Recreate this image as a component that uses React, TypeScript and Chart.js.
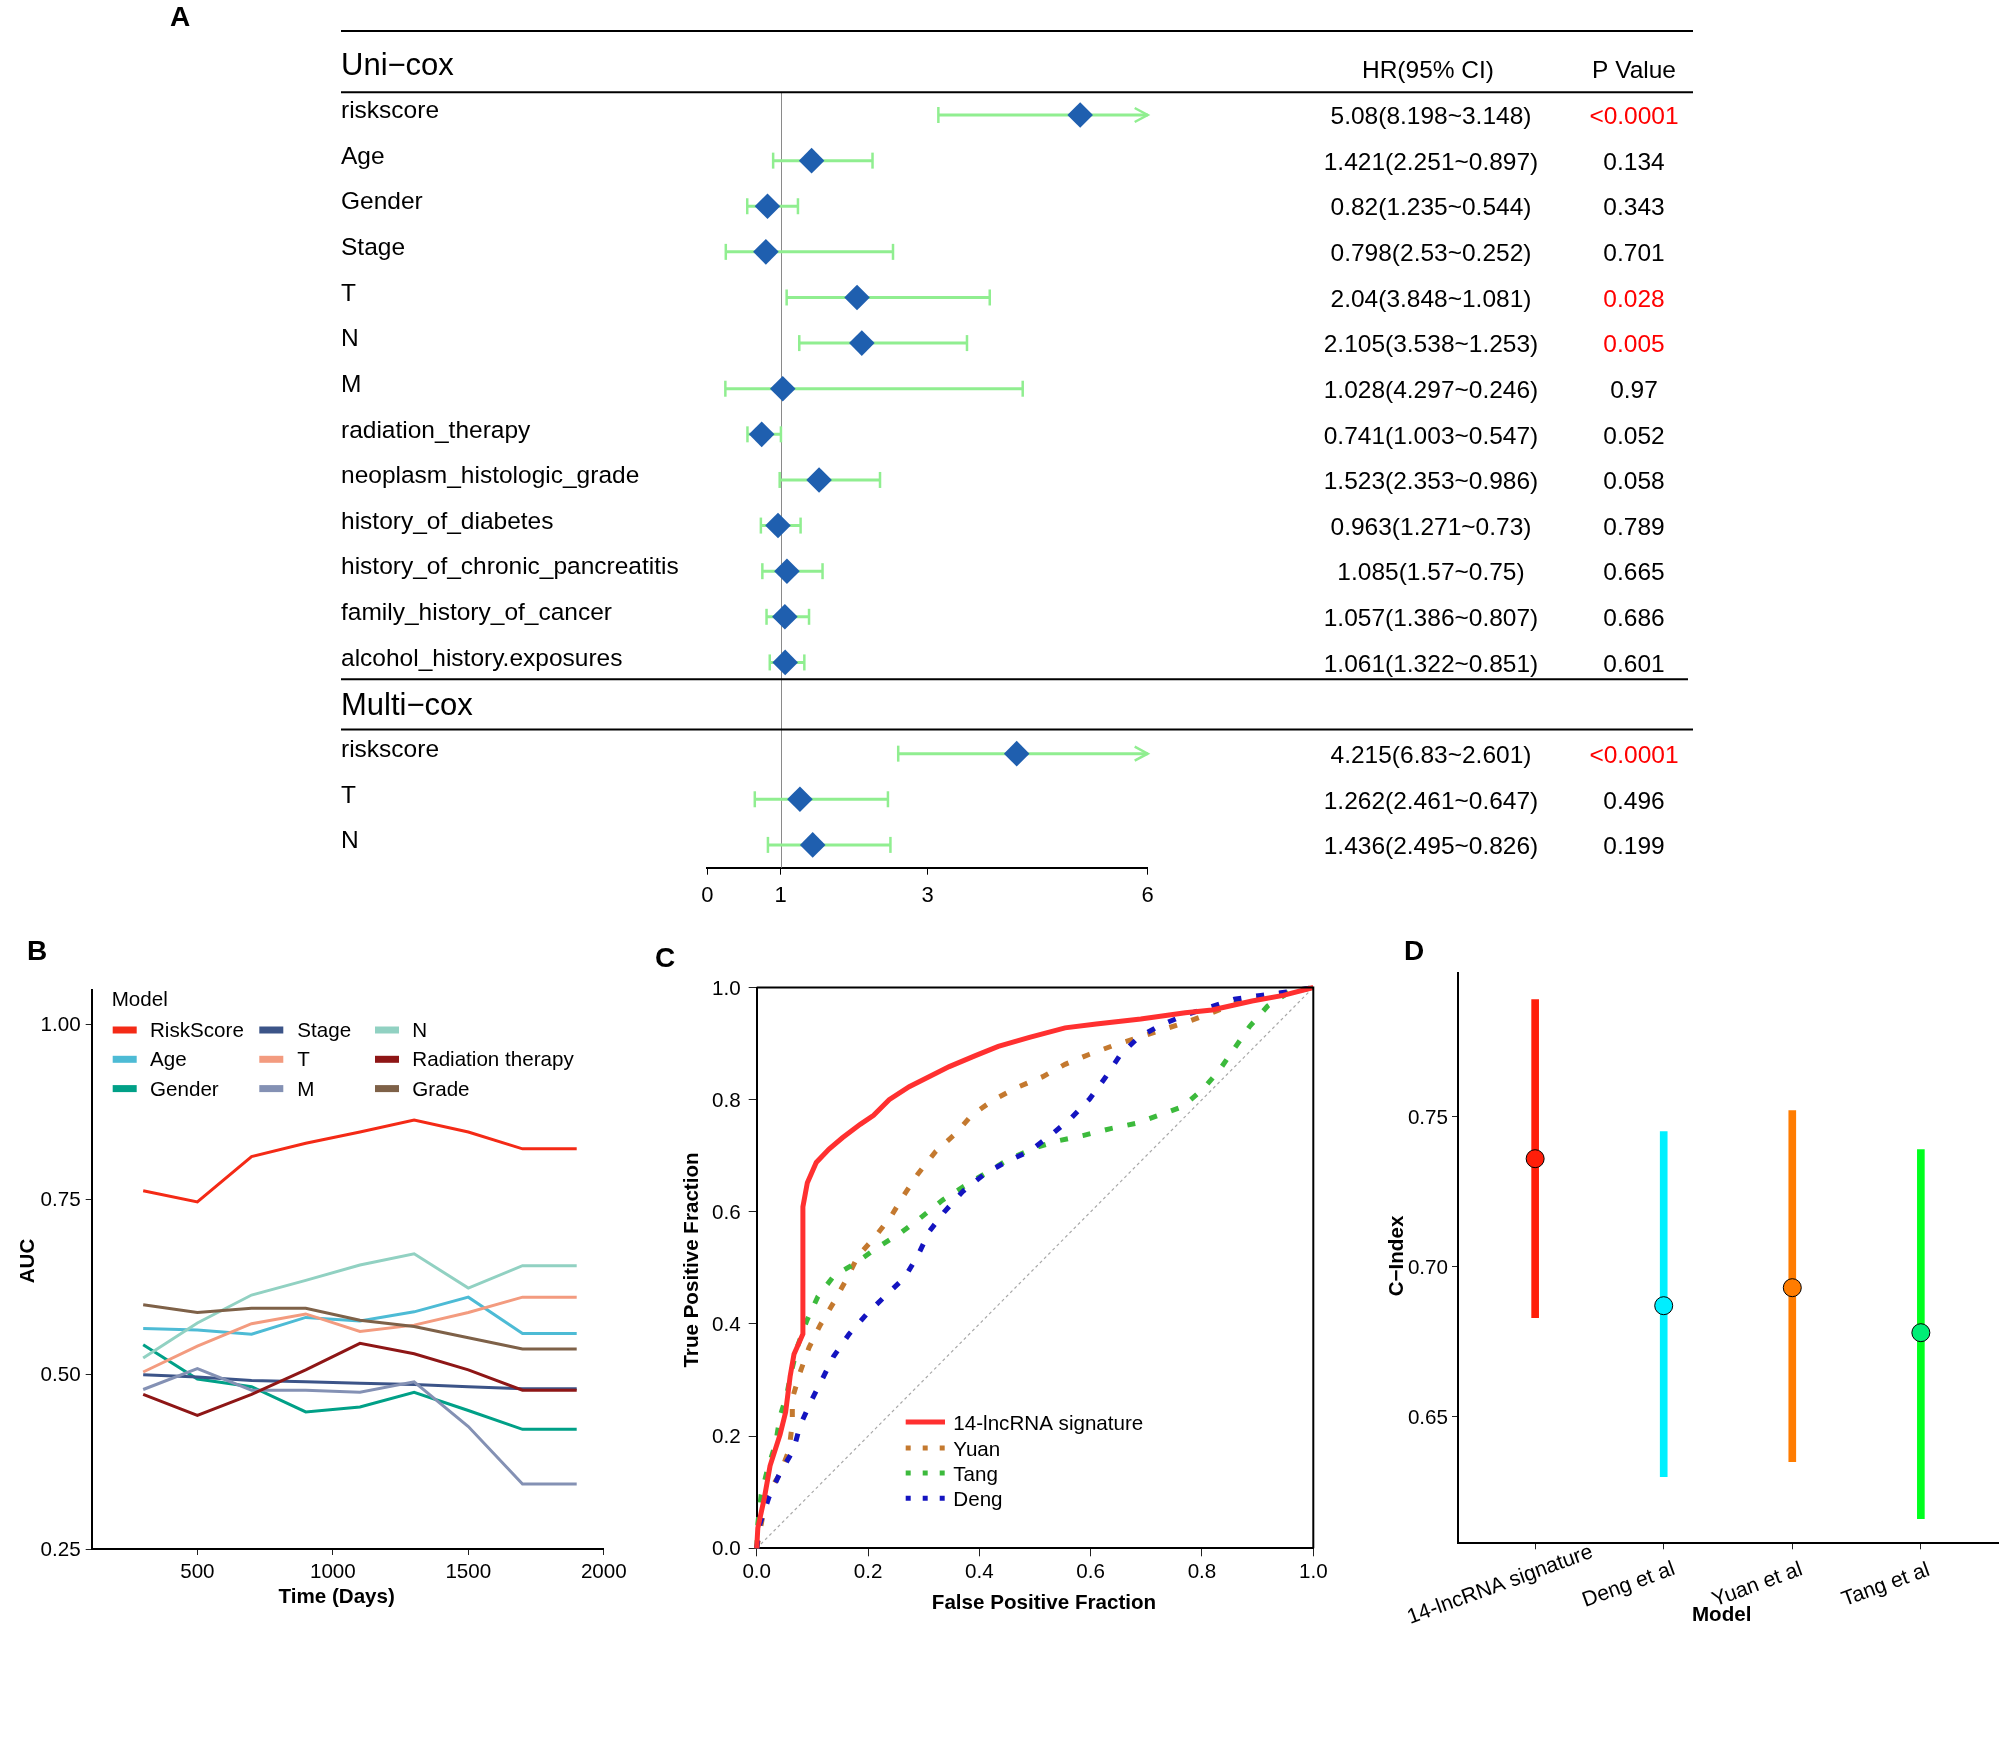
import React, { useEffect, useRef } from "react";
import { Chart, registerables } from "chart.js";

Chart.register(...registerables);

const FONT = '"Liberation Sans", Arial, Helvetica, sans-serif';
Chart.defaults.font.family = FONT;
Chart.defaults.color = "#000";
const FS = 20.6;

// ---------------- Panel A : forest plot ----------------
const uniVars = [
  "riskscore", "Age", "Gender", "Stage", "T", "N", "M", "radiation_therapy",
  "neoplasm_histologic_grade", "history_of_diabetes", "history_of_chronic_pancreatitis",
  "family_history_of_cancer", "alcohol_history.exposures",
];
const uniHR = [5.08, 1.421, 0.82, 0.798, 2.04, 2.105, 1.028, 0.741, 1.523, 0.963, 1.085, 1.057, 1.061];
const uniUpper = [8.198, 2.251, 1.235, 2.53, 3.848, 3.538, 4.297, 1.003, 2.353, 1.271, 1.57, 1.386, 1.322];
const uniLower = [3.148, 0.897, 0.544, 0.252, 1.081, 1.253, 0.246, 0.547, 0.986, 0.73, 0.75, 0.807, 0.851];
const uniP = ["<0.0001", "0.134", "0.343", "0.701", "0.028", "0.005", "0.97", "0.052", "0.058", "0.789", "0.665", "0.686", "0.601"];
const multiVars = ["riskscore", "T", "N"];
const multiHR = [4.215, 1.262, 1.436];
const multiUpper = [6.83, 2.461, 2.495];
const multiLower = [2.601, 0.647, 0.826];
const multiP = ["<0.0001", "0.496", "0.199"];
const forestTicks = [0, 1, 3, 6];

// ---------------- Panel B : time-dependent AUC ----------------
const aucTimes = [300, 500, 700, 900, 1100, 1300, 1500, 1700, 1900];
const aucRiskScore = [0.762, 0.746, 0.811, 0.830, 0.846, 0.863, 0.846, 0.822, 0.822];
const aucAge = [0.565, 0.563, 0.557, 0.581, 0.576, 0.589, 0.610, 0.558, 0.558];
const aucGender = [0.542, 0.493, 0.482, 0.446, 0.453, 0.474, 0.448, 0.421, 0.421];
const aucStage = [0.499, 0.496, 0.491, 0.489, 0.487, 0.485, 0.482, 0.479, 0.479];
const aucT = [0.503, 0.540, 0.572, 0.586, 0.561, 0.570, 0.588, 0.610, 0.610];
const aucM = [0.478, 0.508, 0.477, 0.477, 0.474, 0.489, 0.425, 0.343, 0.343];
const aucN = [0.523, 0.573, 0.613, 0.634, 0.656, 0.672, 0.623, 0.655, 0.655];
const aucRadiation = [0.471, 0.441, 0.471, 0.506, 0.544, 0.529, 0.506, 0.477, 0.477];
const aucGrade = [0.599, 0.588, 0.594, 0.594, 0.577, 0.568, 0.552, 0.536, 0.536];
const aucLabels = ["RiskScore", "Age", "Gender", "Stage", "T", "M", "N", "Radiation therapy", "Grade"];
const aucColors = ["#F42A16", "#4DBBD5", "#00A087", "#3C5488", "#F39B7F", "#8491B4", "#91D1C2", "#8E1616", "#7E6148"];
const aucTicksX = [500, 1000, 1500, 2000];
const aucTicksY = [0.25, 0.5, 0.75, 1.0];

// ---------------- Panel C : ROC curves ----------------
const sigFPR = [0, 0.002, 0.014, 0.024, 0.042, 0.052, 0.060, 0.067, 0.083, 0.083, 0.091, 0.107, 0.130, 0.154, 0.186, 0.210, 0.238, 0.274, 0.306, 0.346, 0.394, 0.434, 0.490, 0.554, 0.610, 0.690, 0.770, 0.818, 0.890, 0.946, 1.0];
const sigTPR = [0, 0.036, 0.091, 0.147, 0.203, 0.243, 0.306, 0.346, 0.382, 0.609, 0.652, 0.688, 0.712, 0.732, 0.756, 0.772, 0.800, 0.823, 0.839, 0.859, 0.879, 0.895, 0.911, 0.928, 0.935, 0.944, 0.955, 0.960, 0.976, 0.986, 1.0];
const yuanFPR = [0, 0.018, 0.042, 0.058, 0.064, 0.064, 0.078, 0.094, 0.114, 0.138, 0.162, 0.182, 0.214, 0.242, 0.266, 0.290, 0.322, 0.358, 0.386, 0.426, 0.466, 0.514, 0.554, 0.598, 0.642, 0.686, 0.730, 0.774, 0.818, 0.858, 0.906, 0.954, 1.0];
const yuanTPR = [0, 0.095, 0.133, 0.175, 0.223, 0.267, 0.314, 0.358, 0.398, 0.438, 0.481, 0.521, 0.557, 0.593, 0.632, 0.668, 0.708, 0.740, 0.772, 0.800, 0.821, 0.841, 0.863, 0.881, 0.897, 0.911, 0.925, 0.939, 0.955, 0.971, 0.982, 0.992, 1.0];
const tangFPR = [0, 0.002, 0.008, 0.019, 0.034, 0.042, 0.054, 0.062, 0.074, 0.090, 0.110, 0.138, 0.178, 0.218, 0.258, 0.294, 0.334, 0.370, 0.410, 0.450, 0.494, 0.538, 0.586, 0.634, 0.682, 0.722, 0.766, 0.802, 0.830, 0.858, 0.886, 0.918, 0.954, 1.0];
const tangTPR = [0, 0.044, 0.095, 0.139, 0.187, 0.235, 0.274, 0.314, 0.362, 0.406, 0.449, 0.485, 0.509, 0.537, 0.562, 0.589, 0.621, 0.644, 0.668, 0.692, 0.712, 0.726, 0.736, 0.748, 0.758, 0.772, 0.788, 0.819, 0.851, 0.891, 0.931, 0.967, 0.990, 1.0];
const dengFPR = [0, 0.006, 0.022, 0.042, 0.066, 0.078, 0.098, 0.118, 0.138, 0.166, 0.198, 0.230, 0.266, 0.290, 0.310, 0.338, 0.370, 0.410, 0.450, 0.490, 0.530, 0.566, 0.598, 0.626, 0.654, 0.686, 0.726, 0.770, 0.814, 0.858, 0.906, 0.954, 1.0];
const dengTPR = [0, 0.044, 0.091, 0.135, 0.175, 0.219, 0.263, 0.302, 0.342, 0.382, 0.418, 0.449, 0.483, 0.523, 0.565, 0.601, 0.636, 0.668, 0.690, 0.708, 0.738, 0.768, 0.801, 0.839, 0.881, 0.911, 0.933, 0.951, 0.965, 0.979, 0.986, 0.992, 1.0];
const rocTicks = [0, 0.2, 0.4, 0.6, 0.8, 1.0];

// ---------------- Panel D : C-index ----------------
const cModels = ["14-lncRNA signature", "Deng et al", "Yuan et al", "Tang et al"];
const cIndex = [0.736, 0.687, 0.693, 0.678];
const cLower = [0.683, 0.630, 0.635, 0.616];
const cUpper = [0.789, 0.745, 0.752, 0.739];
const cBarColors = ["#FF1E0A", "#00F0FF", "#FF7C00", "#00FF1E"];
const cPointColors = ["#FF1E0A", "#00EEFF", "#FF7C00", "#00EE76"];
const cTicksY = [0.65, 0.7, 0.75];

// ---------------------------------------------------------------
const tickGrid = (len: number) => ({
  display: true, drawOnChartArea: false, drawTicks: true, tickLength: len,
  color: "#222", lineWidth: 1, offset: false,
});
const axisBorder = { display: true, color: "#000", width: 2 };

function line(ctx: any, x1: number, y1: number, x2: number, y2: number) {
  ctx.beginPath(); ctx.moveTo(x1, y1); ctx.lineTo(x2, y2); ctx.stroke();
}

function drawTitle(ctx: any, text: string, x: number, y: number, rotate: boolean) {
  ctx.save();
  ctx.font = `bold ${FS}px ${FONT}`;
  ctx.fillStyle = "#000"; ctx.textAlign = "center"; ctx.textBaseline = "middle";
  ctx.translate(x, y);
  if (rotate) ctx.rotate(-Math.PI / 2);
  ctx.fillText(text, 0, 0);
  ctx.restore();
}

const forestRows = [
  ...uniVars.map((label, i) => ({ label, hr: uniHR[i], lower: uniLower[i], upper: uniUpper[i], p: uniP[i], row: i })),
  ...multiVars.map((label, i) => ({ label, hr: multiHR[i], lower: multiLower[i], upper: multiUpper[i], p: multiP[i], row: uniVars.length + 1 + i })),
];
const isSig = (p: string) => p.startsWith("<") || parseFloat(p) < 0.05;

const forestPlugin = {
  id: "forestDecor",
  beforeDatasetsDraw(chart: any) {
    const { ctx, scales: { x, y }, chartArea } = chart;
    ctx.save();
    const x1 = Math.round(x.getPixelForValue(1)) + 0.5;
    ctx.strokeStyle = "#8a8a8a"; ctx.lineWidth = 1;
    line(ctx, x1, y.getPixelForValue(-0.5), x1, chartArea.bottom);
    ctx.strokeStyle = "#90EE90";
    forestRows.forEach((r) => {
      const py = y.getPixelForValue(r.row);
      const xl = x.getPixelForValue(Math.max(r.lower, x.min));
      const xu = x.getPixelForValue(Math.min(r.upper, x.max));
      ctx.lineWidth = 3;
      line(ctx, xl, py, xu, py);
      ctx.lineWidth = 2.5;
      line(ctx, xl, py - 8, xl, py + 8);
      if (r.upper <= x.max) {
        line(ctx, xu, py - 8, xu, py + 8);
      } else {
        ctx.beginPath();
        ctx.moveTo(xu - 13, py - 7); ctx.lineTo(xu, py); ctx.lineTo(xu - 13, py + 7);
        ctx.stroke();
      }
    });
    ctx.restore();
  },
  afterDraw(chart: any) {
    const { ctx, scales: { y } } = chart;
    ctx.save();
    ctx.strokeStyle = "#000"; ctx.lineWidth = 2;
    line(ctx, 341, y.getPixelForValue(-1.84), 1693, y.getPixelForValue(-1.84));
    line(ctx, 341, y.getPixelForValue(-0.5), 1693, y.getPixelForValue(-0.5));
    line(ctx, 341, y.getPixelForValue(12.37), 1688, y.getPixelForValue(12.37));
    line(ctx, 341, y.getPixelForValue(13.47), 1693, y.getPixelForValue(13.47));
    ctx.fillStyle = "#000"; ctx.textBaseline = "middle";
    ctx.font = `31px ${FONT}`; ctx.textAlign = "left";
    ctx.fillText("Uni\u2212cox", 341, 66.5);
    ctx.fillText("Multi\u2212cox", 341, y.getPixelForValue(12.93) + 2);
    ctx.font = `24.5px ${FONT}`; ctx.textAlign = "center";
    ctx.fillText("HR(95% CI)", 1428, 71);
    ctx.fillText("P Value", 1634, 71);
    forestRows.forEach((r) => {
      const py = y.getPixelForValue(r.row);
      ctx.fillStyle = "#000";
      ctx.textAlign = "left";
      ctx.fillText(r.label, 341, py - 3.5);
      ctx.textAlign = "center";
      ctx.fillText(`${r.hr}(${r.upper}~${r.lower})`, 1431, py + 2.5);
      ctx.fillStyle = isSig(r.p) ? "#FF0000" : "#000";
      ctx.fillText(r.p, 1634, py + 2.5);
    });
    ctx.restore();
  },
};

function buildA(): any {
  return {
    type: "scatter",
    data: {
      datasets: [{
        data: forestRows.map((r) => ({ x: r.hr, y: r.row })),
        pointStyle: "rectRot", pointRadius: 12.8, pointHoverRadius: 12.8,
        backgroundColor: "#1F5FAF", borderColor: "#1F5FAF", borderWidth: 0,
      }],
    },
    options: {
      responsive: false, animation: false, events: [],
      layout: { padding: { left: 707.3, right: 2008 - 1147.7, top: 92.2, bottom: 0 } },
      plugins: { legend: { display: false }, tooltip: { enabled: false } },
      scales: {
        x: {
          type: "linear", min: 0, max: 6,
          afterBuildTicks: (s: any) => { s.ticks = forestTicks.map((v) => ({ value: v })); },
          afterFit: (s: any) => { s.height = 930 - 867.7; },
          ticks: { font: { size: 22 }, color: "#000", padding: 8, maxRotation: 0, autoSkip: false, callback: (v: any) => String(v) },
          grid: { ...tickGrid(7), color: "#000" },
          border: axisBorder,
        },
        y: { type: "linear", min: -0.5, max: 16.5, reverse: true, display: false },
      },
    },
    plugins: [forestPlugin],
  };
}

// ---------------- B ----------------
const aucSeries = [aucRiskScore, aucAge, aucGender, aucStage, aucT, aucM, aucN, aucRadiation, aucGrade];

const aucLegendPlugin = {
  id: "aucLegend",
  afterDraw(chart: any) {
    const { ctx } = chart;
    ctx.save();
    ctx.font = `${FS}px ${FONT}`; ctx.fillStyle = "#000";
    ctx.textBaseline = "middle"; ctx.textAlign = "left";
    ctx.fillText("Model", 111.7, 70.5);
    const keyX = [112.7, 259.3, 375];
    const textX = [150, 297.3, 412.3];
    const rowY = [100, 129.3, 158.6];
    aucLabels.forEach((lab, i) => {
      const c = Math.floor(i / 3), r = i % 3;
      ctx.fillStyle = aucColors[i];
      ctx.fillRect(keyX[c], rowY[r] - 3.5, 24, 7);
      ctx.fillStyle = "#000";
      ctx.fillText(lab, textX[c], rowY[r] + 1.5);
    });
    drawTitle(ctx, "Time (Days)", 336.7, 667, false);
    drawTitle(ctx, "AUC", 28, 331, true);
    ctx.restore();
  },
};

function buildB(): any {
  return {
    type: "scatter",
    data: {
      datasets: aucSeries.map((vals, i) => ({
        label: aucLabels[i],
        data: aucTimes.map((t, j) => ({ x: t, y: vals[j] })),
        showLine: true, borderColor: aucColors[i], backgroundColor: aucColors[i],
        borderWidth: 3, pointRadius: 0, pointHoverRadius: 0, tension: 0, order: -i,
      })),
    },
    options: {
      responsive: false, animation: false, events: [],
      layout: { padding: { left: 12, right: 650 - 603.8, top: 60, bottom: 21 } },
      plugins: { legend: { display: false }, tooltip: { enabled: false } },
      scales: {
        x: {
          type: "linear", min: 110, max: 2000,
          afterBuildTicks: (s: any) => { s.ticks = aucTicksX.map((v) => ({ value: v })); },
          afterFit: (s: any) => { s.height = 60; },
          ticks: { font: { size: FS }, color: "#000", padding: 5, maxRotation: 0, autoSkip: false, callback: (v: any) => String(v) },
          grid: tickGrid(6), border: axisBorder,
        },
        y: {
          type: "linear", min: 0.25, max: 1.049,
          afterBuildTicks: (s: any) => { s.ticks = aucTicksY.map((v) => ({ value: v })); },
          afterFit: (s: any) => { s.width = 79.7; },
          ticks: { font: { size: FS }, color: "#000", padding: 5, labelOffset: 1.5, autoSkip: false, callback: (v: any) => Number(v).toFixed(2) },
          grid: tickGrid(6), border: axisBorder,
        },
      },
    },
    plugins: [aucLegendPlugin],
  };
}

// ---------------- C ----------------
const rocCurves = [
  { label: "14-lncRNA signature", fpr: sigFPR, tpr: sigTPR, color: "#FF3030", dash: [] as number[] },
  { label: "Deng", fpr: dengFPR, tpr: dengTPR, color: "#1414C0", dash: [8, 15] },
  { label: "Tang", fpr: tangFPR, tpr: tangTPR, color: "#3CBA3C", dash: [8, 15] },
  { label: "Yuan", fpr: yuanFPR, tpr: yuanTPR, color: "#C4792F", dash: [8, 15] },
];
const rocLegendOrder = ["14-lncRNA signature", "Yuan", "Tang", "Deng"];

const rocPlugin = {
  id: "rocDecor",
  afterDraw(chart: any) {
    const { ctx, chartArea: ca } = chart;
    ctx.save();
    ctx.strokeStyle = "#000"; ctx.lineWidth = 2;
    ctx.beginPath(); ctx.moveTo(ca.left, ca.top); ctx.lineTo(ca.right, ca.top); ctx.lineTo(ca.right, ca.bottom); ctx.stroke();
    const rowY = [492, 518, 543, 568.3];
    ctx.font = `${FS}px ${FONT}`; ctx.textBaseline = "middle"; ctx.textAlign = "left";
    rocLegendOrder.forEach((name, i) => {
      const c = rocCurves.find((k) => k.label === name)!;
      ctx.strokeStyle = c.color; ctx.lineWidth = 5; ctx.lineCap = "butt";
      ctx.setLineDash(c.dash.length ? [5, 12] : []);
      line(ctx, 265.7, rowY[i], 305, rowY[i]);
      ctx.setLineDash([]);
      ctx.fillStyle = "#000";
      ctx.fillText(name, 313.3, rowY[i] + 2);
    });
    drawTitle(ctx, "False Positive Fraction", 404, 673.5, false);
    drawTitle(ctx, "True Positive Fraction", 52.5, 330, true);
    ctx.restore();
  },
};

function buildC(): any {
  const sets: any[] = rocCurves.map((c) => ({
    label: c.label,
    data: c.fpr.map((f, j) => ({ x: f, y: c.tpr[j] })),
    showLine: true, borderColor: c.color, backgroundColor: c.color,
    borderWidth: 5, borderDash: c.dash, borderCapStyle: "butt",
    pointRadius: 0, pointHoverRadius: 0, tension: 0, clip: false,
  }));
  sets.push({
    label: "ref", data: [{ x: 0, y: 0 }, { x: 1, y: 1 }], showLine: true,
    borderColor: "#A8A8A8", borderWidth: 1.2, borderDash: [3, 3], pointRadius: 0, tension: 0,
  });
  return {
    type: "scatter",
    data: { datasets: sets },
    options: {
      responsive: false, animation: false, events: [],
      layout: { padding: { left: 36.5, right: 26.7, top: 57.5, bottom: 14 } },
      plugins: { legend: { display: false }, tooltip: { enabled: false } },
      scales: {
        x: {
          type: "linear", min: 0, max: 1,
          afterBuildTicks: (s: any) => { s.ticks = rocTicks.map((v) => ({ value: v })); },
          afterFit: (s: any) => { s.height = 67.7; },
          ticks: { font: { size: FS }, color: "#000", padding: 4, maxRotation: 0, autoSkip: false, callback: (v: any) => Number(v).toFixed(1) },
          grid: tickGrid(8), border: axisBorder,
        },
        y: {
          type: "linear", min: 0, max: 1,
          afterBuildTicks: (s: any) => { s.ticks = rocTicks.map((v) => ({ value: v })); },
          afterFit: (s: any) => { s.width = 80.2; },
          ticks: { font: { size: FS }, color: "#000", padding: 8, labelOffset: 1.5, autoSkip: false, callback: (v: any) => Number(v).toFixed(1) },
          grid: tickGrid(8), border: axisBorder,
        },
      },
    },
    plugins: [rocPlugin],
  };
}

// ---------------- D ----------------
const cindexLabelPlugin = {
  id: "cindexLabels",
  afterDraw(chart: any) {
    const { ctx, scales: { x } } = chart;
    ctx.save();
    ctx.font = `21.2px ${FONT}`; ctx.fillStyle = "#000";
    ctx.textAlign = "center"; ctx.textBaseline = "middle";
    cModels.forEach((m, i) => {
      ctx.save();
      ctx.translate(x.getPixelForValue(i + 1) - 35, 655);
      ctx.rotate((-20 * Math.PI) / 180);
      ctx.fillText(m, 0, 0);
      ctx.restore();
    });
    drawTitle(ctx, "Model", 381.7, 685, false);
    drawTitle(ctx, "C\u2212Index", 57, 326, true);
    ctx.restore();
  },
};

function buildD(): any {
  return {
    type: "scatter",
    data: {
      datasets: [
        {
          type: "scatter",
          data: cModels.map((_, i) => ({ x: i + 1, y: cIndex[i] })),
          pointRadius: 9, pointHoverRadius: 9, backgroundColor: cPointColors,
          borderColor: "#000", borderWidth: 1, order: 0,
        },
        {
          type: "bar",
          data: cModels.map((_, i) => ({ x: i + 1, y: [cLower[i], cUpper[i]] })),
          backgroundColor: cBarColors, borderWidth: 0, barThickness: 7, order: 1,
        },
      ],
    },
    options: {
      responsive: false, animation: false, events: [],
      layout: { padding: { left: 41, right: 0, top: 43.3, bottom: 0 } },
      plugins: { legend: { display: false }, tooltip: { enabled: false } },
      scales: {
        x: {
          type: "linear", min: 0.4, max: 4.6, offset: false,
          afterBuildTicks: (s: any) => { s.ticks = cModels.map((_, i) => ({ value: i + 1 })); },
          afterFit: (s: any) => { s.height = 86.7; },
          ticks: { display: false, autoSkip: false },
          grid: tickGrid(6), border: axisBorder,
        },
        y: {
          type: "linear", min: 0.6078, max: 0.7978,
          afterBuildTicks: (s: any) => { s.ticks = cTicksY.map((v) => ({ value: v })); },
          afterFit: (s: any) => { s.width = 77; },
          ticks: { font: { size: FS }, color: "#000", padding: 4, labelOffset: 1.5, autoSkip: false, callback: (v: any) => Number(v).toFixed(2) },
          grid: tickGrid(6), border: axisBorder,
        },
      },
    },
    plugins: [cindexLabelPlugin],
  };
}

function Letter({ t, x, y }: { t: string; x: number; y: number }) {
  return (
    <div style={{
      position: "absolute", left: x, top: y, transform: "translate(-50%, -50%)",
      fontFamily: FONT, fontWeight: "bold", fontSize: 28, lineHeight: 1, color: "#000",
    }}>{t}</div>
  );
}

export default function App() {
  const refA = useRef<HTMLCanvasElement>(null);
  const refB = useRef<HTMLCanvasElement>(null);
  const refC = useRef<HTMLCanvasElement>(null);
  const refD = useRef<HTMLCanvasElement>(null);

  useEffect(() => {
    const charts = [
      new Chart(refA.current as HTMLCanvasElement, buildA()),
      new Chart(refB.current as HTMLCanvasElement, buildB()),
      new Chart(refC.current as HTMLCanvasElement, buildC()),
      new Chart(refD.current as HTMLCanvasElement, buildD()),
    ];
    return () => charts.forEach((c) => c.destroy());
  }, []);

  return (
    <div style={{ position: "absolute", left: 0, top: 0, width: 2008, height: 1750, background: "#fff", overflow: "hidden" }}>
      <canvas ref={refA} width={2008} height={930} style={{ position: "absolute", left: 0, top: 0 }} />
      <canvas ref={refB} width={650} height={700} style={{ position: "absolute", left: 0, top: 930 }} />
      <canvas ref={refC} width={700} height={700} style={{ position: "absolute", left: 640, top: 930 }} />
      <canvas ref={refD} width={668} height={700} style={{ position: "absolute", left: 1340, top: 930 }} />
      <Letter t="A" x={180} y={17} />
      <Letter t="B" x={37} y={951} />
      <Letter t="C" x={665} y={958} />
      <Letter t="D" x={1414} y={951} />
    </div>
  );
}
